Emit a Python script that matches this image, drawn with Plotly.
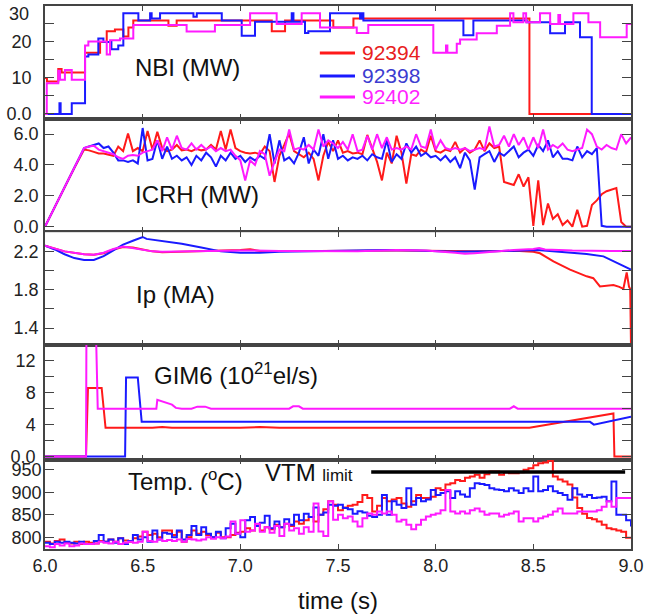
import numpy as np
import plotly.graph_objects as go
from plotly.subplots import make_subplots

# ---------------- data ----------------
shots = ["92394", "92398", "92402"]
colors = ["#ff1a1a", "#1a1aff", "#ff1aff"]
text_colors = ["#e82020", "#3c3cd0", "#ff22ff"]

# NBI (MW) step traces
nbi_t_red = [6.000, 6.010, 6.068, 6.085, 6.205, 6.282, 6.316, 6.358, 6.401, 6.427, 6.452, 6.632, 6.674,
             7.161, 7.229, 7.476, 7.579, 8.480, 9.000]
nbi_red = [10, 9, 12.5, 11.5, 17, 20, 23, 23.5, 21.5, 24, 26, 24.5, 26,
           23, 26, 24, 26.5, 0, 0]
nbi_t_blue = [6.000, 6.074, 6.080, 6.137, 6.205, 6.222, 6.273, 6.299, 6.340, 6.375, 6.401, 6.478, 6.538,
              6.546, 6.589, 6.760, 6.777, 6.905, 7.007, 7.075, 7.263, 7.272, 7.331, 7.348, 7.459,
              7.613, 7.621, 7.630, 8.142, 8.193, 8.466, 8.586, 8.662, 8.739, 8.799, 9.000]
nbi_blue = [0, 3, 0, 3, 16, 16.5, 21, 20, 18, 19, 28, 26, 28,
            26.5, 28, 27, 28, 26, 21.7, 25.6, 28, 25.6, 22.5, 23, 28,
            26.5, 28, 26, 21.9, 26, 25.5, 22.4, 25.5, 21.3, 0, 0]
nbi_t_mag = [6.000, 6.009, 6.068, 6.077, 6.102, 6.137, 6.205, 6.222, 6.316, 6.333, 6.384, 6.452, 6.725,
             6.870, 7.050, 7.186, 7.314, 7.408, 7.596, 7.655, 7.988, 8.053, 8.060, 8.108, 8.125,
             8.210, 8.313, 8.381, 8.398, 8.449, 8.463, 8.534, 8.586, 8.628, 8.637, 8.705, 8.782,
             8.842, 8.978, 9.000]
nbi_mag = [0, 8.5, 12, 9.5, 12.2, 9.5, 19, 20.1, 16.5, 20.5, 21, 24.7, 22.9,
           24.7, 28, 25, 28, 24, 22.5, 24.7, 17, 19, 17, 19.5, 20.7,
           22.4, 24.5, 28, 25.5, 28, 25.5, 28, 25, 27.5, 25, 28, 25.5,
           21.3, 25, 25]

# ICRH (MW): ramp then samples every 25 ms from 6.2 s to 9.0 s
icrh_t = [6.0, 6.05, 6.1, 6.15] + [round(6.2 + 0.025 * i, 3) for i in range(113)]
icrh_ramp = [0.0, 1.3, 2.55, 3.8]
icrh_red = icrh_ramp + [
    5.0, 4.95, 4.85, 4.75, 4.75, 4.65, 4.6, 5.2, 4.9, 6.05,
    4.9, 5.1, 4.9, 6.2, 5.0, 6.15, 5.1, 4.9, 5.0, 5.3,
    4.95, 5.0, 4.9, 5.05, 4.95, 5.0, 5.3, 5.0, 6.2, 5.0,
    6.3, 5.1, 4.9, 4.8, 4.75, 4.8, 4.7, 5.2, 4.9, 2.9,
    4.6, 5.3, 6.05, 4.9, 4.7, 4.5, 4.8, 4.4, 3.0, 4.6,
    5.5, 4.9, 5.6, 4.8, 4.9, 4.75, 4.8, 4.7, 5.95, 5.0,
    4.2, 3.0, 4.8, 4.1, 5.9, 4.8, 2.8, 4.7, 4.6, 5.0,
    4.8, 5.9, 4.9, 4.8, 5.0, 4.9, 5.5, 4.8, 5.1, 4.8,
    5.0, 5.6, 4.9, 5.4, 5.1, 5.2, 2.9, 2.8, 2.7, 3.4,
    2.6, 3.2, 0.05, 3.0, 0.1, 1.5, 0.5, 0.8, 0.1, 0.4,
    0.0, 1.1, 0.0, 0.05, 1.4, 1.7, 2.1, 2.3, 2.4, 2.5,
    0.3, 0.0, 0.0]
icrh_blue = icrh_ramp + [
    5.1, 5.2, 5.3, 5.4, 5.1, 5.2, 4.8, 4.3, 4.3, 4.2,
    4.3, 4.1, 6.4, 4.3, 4.4, 5.6, 4.4, 5.2, 4.4, 4.6,
    4.3, 4.5, 4.0, 4.6, 4.3, 4.8, 4.5, 3.9, 4.6, 4.3,
    4.8, 4.4, 4.6, 4.2, 4.5, 4.3, 4.6, 4.4, 6.0, 4.1,
    5.6, 4.3, 4.5, 4.1, 4.8, 5.8, 4.1, 5.0, 4.6, 6.0,
    4.4, 5.6, 4.4, 4.6, 4.3, 4.5, 4.4, 4.6, 4.3, 4.7,
    4.5, 4.4, 5.6, 4.2, 4.7, 4.4, 5.4, 4.8, 5.2, 4.6,
    4.8, 4.5, 4.6, 4.3, 4.6, 4.2, 4.5, 3.8, 4.8, 4.3,
    2.4, 4.5, 4.7, 4.9, 4.2, 4.8, 4.6, 4.9, 5.2, 4.5,
    4.8, 5.0, 4.6, 5.3, 4.9, 5.6, 4.5, 4.9, 4.4, 4.4,
    4.3, 5.2, 4.5, 4.9, 4.7, 5.1, 0.05, 0.0, 0.0, 0.0,
    0.0, 0.0, 0.0]
icrh_mag = icrh_ramp + [
    5.1, 5.2, 5.25, 5.0, 4.9, 4.75, 4.7, 4.5, 4.4, 4.6,
    4.65, 4.6, 4.8, 4.9, 5.0, 5.6, 4.9, 5.8, 5.0, 5.9,
    5.1, 5.0, 5.4, 5.0, 5.3, 5.0, 5.2, 4.9, 5.1, 4.9,
    5.0, 4.6, 4.3, 3.0, 4.3, 4.0, 4.9, 4.7, 3.3, 4.2,
    5.0, 4.9, 6.3, 5.0, 5.1, 5.0, 5.3, 5.0, 6.3, 5.2,
    5.6, 5.4, 5.1, 5.5, 5.0, 6.0, 4.9, 5.0, 5.9, 5.0,
    6.0, 5.1, 5.8, 5.0, 5.1, 5.0, 5.2, 5.0, 6.0, 5.2,
    5.1, 6.3, 5.0, 5.6, 5.1, 5.0, 5.1, 5.0, 5.1, 4.9,
    5.0, 5.1, 5.0, 6.5, 5.2, 5.3, 5.9, 5.2, 6.0, 5.3,
    5.8, 5.0, 5.8, 5.1, 6.3, 5.0, 5.3, 5.1, 5.4, 5.0,
    4.9, 5.0, 5.1, 6.3, 6.0, 5.2, 5.0, 5.3, 5.1, 5.0,
    6.0, 5.4, 5.8]

# Ip (MA)
ip_t_red = [6.00, 6.10, 6.20, 6.25, 6.30, 6.35, 6.40, 6.45, 6.50, 6.55, 6.60, 6.70, 6.80, 6.90, 7.00, 7.05,
            7.10, 7.40, 7.80, 8.20, 8.43, 8.50, 8.534, 8.603, 8.688, 8.773, 8.807, 8.841, 8.876, 8.910,
            8.940, 8.961, 8.978, 8.990, 8.996, 9.000]
ip_red = [2.26, 2.20, 2.17, 2.165, 2.18, 2.22, 2.245, 2.24, 2.22, 2.20, 2.19, 2.195, 2.205, 2.21, 2.215, 2.222,
          2.205, 2.205, 2.21, 2.20, 2.205, 2.195, 2.18, 2.096, 2.009, 1.94, 1.92, 1.835, 1.84, 1.85,
          1.83, 1.81, 1.98, 1.83, 1.81, 1.20]
ip_t_blue = [6.00, 6.05, 6.10, 6.15, 6.20, 6.25, 6.30, 6.35, 6.40, 6.45, 6.48, 6.50, 6.52, 6.60, 6.70, 6.80,
             6.90, 7.00, 7.10, 7.20, 7.30, 7.40, 7.75, 7.90, 8.10, 8.30, 8.45, 8.52, 8.60, 8.773, 8.859,
             8.910, 8.950, 9.000]
ip_blue = [2.26, 2.22, 2.17, 2.13, 2.11, 2.11, 2.15, 2.21, 2.27, 2.31, 2.33, 2.35, 2.33, 2.31, 2.28, 2.24,
           2.20, 2.185, 2.185, 2.195, 2.20, 2.205, 2.215, 2.21, 2.195, 2.20, 2.205, 2.215, 2.20, 2.172, 2.148,
           2.10, 2.06, 2.01]
ip_t_mag = [6.00, 6.10, 6.20, 6.25, 6.30, 6.35, 6.40, 6.45, 6.50, 6.55, 6.60, 6.80, 7.00, 7.20, 7.40, 7.60,
            7.80, 7.95, 8.10, 8.15, 8.20, 8.30, 8.40, 8.50, 8.53, 8.56, 8.70, 8.90, 9.00]
ip_mag = [2.26, 2.20, 2.17, 2.165, 2.185, 2.225, 2.25, 2.235, 2.215, 2.20, 2.195, 2.205, 2.21, 2.205, 2.205, 2.20,
          2.215, 2.21, 2.185, 2.175, 2.18, 2.20, 2.215, 2.225, 2.235, 2.22, 2.21, 2.205, 2.205]

# GIM6 (1e21 el/s)
gim_t_red = [6.00, 6.21, 6.22, 6.29, 6.31, 6.55, 6.60, 6.65, 7.00, 7.10, 7.20, 8.48, 8.91, 8.915, 9.00]
gim_red = [0, 0, 8.6, 8.6, 3.6, 3.6, 3.7, 3.6, 3.6, 3.7, 3.6, 3.6, 5.4, 0, 0]
gim_t_blue = [6.00, 6.41, 6.415, 6.475, 6.495, 8.79, 8.81, 9.00]
gim_blue = [0, 0, 9.9, 9.9, 4.35, 4.35, 4.0, 5.0]
gim_t_mag = [6.00, 6.21, 6.212, 6.262, 6.27, 6.57, 6.575, 6.60, 6.62, 6.65, 6.67, 6.70, 6.75, 6.78, 6.82,
             6.85, 7.25, 7.27, 7.30, 7.32, 8.38, 8.40, 8.42, 9.00]
gim_mag = [0, 0, 14.5, 14.5, 6.0, 6.0, 7.1, 6.9, 6.7, 6.5, 6.1, 6.0, 6.0, 6.25, 6.25,
           6.0, 6.0, 6.3, 6.3, 6.0, 6.0, 6.3, 6.0, 6.0]

# Temperature (deg C), sampled every 25 ms from 6.0 s to 9.0 s
temp_t = [round(6.0 + 0.025 * i, 3) for i in range(121)]
temp_red = [
    790, 786, 792, 795, 788, 786, 790, 785, 790, 788,
    786, 792, 790, 795, 790, 798, 793, 790, 798, 802,
    812, 805, 808, 800, 815, 815, 805, 812, 790, 800,
    815, 808, 812, 805, 800, 810, 800, 800, 805, 810,
    812, 820, 815, 826, 815, 822, 818, 828, 822, 830,
    825, 835, 830, 838, 845, 835,
    850, 862, 880, 872, 860, 866, 870, 872, 878, 894,
    887, 857, 870, 887, 880, 884, 887, 875, 868, 880,
    894, 887, 887, 890, 909, 905, 917, 920, 927, 925,
    932, 935, 939, 932, 940, 946, 946, 939, 944, 942,
    942, 944, 950, 953, 960, 964, 966, 970, 935, 928,
    924, 917, 888, 865, 852, 843, 840, 835, 828, 820,
    818, 815, 812, 799, 797]
temp_blue = [
    788, 785, 790, 788, 790, 788, 786, 790, 785, 785,
    792, 805, 790, 795, 788, 798, 785, 792, 805, 795,
    800, 790, 815, 795, 810, 808, 800, 815, 795, 805,
    825, 805, 822, 808, 800, 812, 798, 820, 830, 808,
    800, 838, 845, 825, 832, 848, 820, 835, 822, 840,
    828, 850, 838, 852, 845, 866,
    850, 855, 872, 870, 872, 865, 862, 852, 858, 855,
    848, 845, 850, 894, 850, 880, 872, 865, 909, 872,
    887, 880, 884, 905, 894, 898, 902, 887, 902, 895,
    890, 909, 920, 918, 916, 909, 906, 905, 902, 909,
    904, 898, 909, 902, 935, 902, 905, 913, 902, 898,
    894, 883, 909, 895, 890, 894, 887, 888, 890, 880,
    924, 850, 850, 838, 824]
temp_mag = [
    780, 778, 785, 782, 786, 780, 782, 786, 785, 785,
    786, 790, 788, 786, 790, 785, 788, 790, 788, 790,
    812, 792, 790, 795, 792, 794, 792, 795, 790, 796,
    795, 793, 795, 800, 797, 800, 798, 802, 835, 808,
    838, 812, 815, 830, 812, 822, 810, 825, 803, 830,
    815, 820, 808, 822, 812, 875,
    813, 803, 880, 839, 850, 842, 846, 835, 824, 842,
    853, 850, 857, 853, 857, 850, 835, 839, 828, 818,
    828, 839, 846, 850, 853, 860, 905, 857, 853, 857,
    853, 860, 864, 857, 850, 853, 853, 846, 850, 853,
    857, 835, 842, 842, 835, 842, 846, 850, 857, 864,
    853, 853, 853, 857, 857, 857, 857, 860, 868, 880,
    868, 887, 887, 887, 887]

vtm_t = [7.67, 8.97]
vtm_limit = [945, 945]

x_ticks = [6.0, 6.5, 7.0, 7.5, 8.0, 8.5, 9.0]
x_tick_labels = ["6.0", "6.5", "7.0", "7.5", "8.0", "8.5", "9.0"]

# ---------------- figure ----------------
FONT = "Liberation Sans, Arial, Helvetica, sans-serif"
row_px = [113.3, 113.0, 112.7, 115.0, 89.3]
fig = make_subplots(rows=5, cols=1, shared_xaxes=True, vertical_spacing=0,
                    row_heights=[h / sum(row_px) for h in row_px])

panels = [
    (1, [(nbi_t_red, nbi_red), (nbi_t_blue, nbi_blue), (nbi_t_mag, nbi_mag)], "hv"),
    (2, [(icrh_t, icrh_red), (icrh_t, icrh_blue), (icrh_t, icrh_mag)], "linear"),
    (3, [(ip_t_red, ip_red), (ip_t_blue, ip_blue), (ip_t_mag, ip_mag)], "linear"),
    (4, [(gim_t_red, gim_red), (gim_t_blue, gim_blue), (gim_t_mag, gim_mag)], "linear"),
    (5, [(temp_t, temp_red), (temp_t, temp_blue), (temp_t, temp_mag)], "hv"),
]
for row, series, shape in panels:
    for k, (tt, vv) in enumerate(series):
        fig.add_trace(go.Scatter(x=tt, y=vv, mode="lines", name=shots[k],
                                 line=dict(color=colors[k], width=2, shape=shape),
                                 showlegend=False),
                      row=row, col=1)

fig.add_trace(go.Scatter(x=vtm_t, y=vtm_limit, mode="lines", line=dict(color="black", width=3.5),
                         showlegend=False), row=5, col=1)

TICKFONT = dict(family=FONT, size=18, color="#222")
axcommon = dict(showline=True, mirror="allticks", ticks="inside", linecolor="#444", linewidth=1.5,
                tickcolor="#444", tickwidth=1.2, showgrid=False, zeroline=False, automargin=False,
                tickfont=TICKFONT, ticklabeloverflow="allow")

for r in range(1, 6):
    fig.update_xaxes(range=[6.0, 9.0], tickmode="array", tickvals=x_ticks, ticktext=x_tick_labels,
                     ticklen=5, showticklabels=(r == 5), row=r, col=1, **axcommon)

yspecs = [
    dict(range=[-1.47, 30.0], tickvals=[0, 5, 10, 15, 20, 25, 30],
         ticktext=["0.0", "", "10", "", "20", "", ""], ticklabelstandoff=8),
    dict(range=[-0.36, 6.97], tickvals=[0, 2, 4, 6], ticktext=["0.0", "2.0", "4.0", "6.0"],
         ticklabelstandoff=1),
    dict(range=[1.226, 2.40], tickvals=[1.4, 1.6, 1.8, 2.0, 2.2], ticktext=["1.4", "", "1.8", "", "2.2"],
         ticklabelstandoff=1),
    dict(range=[-0.4, 14.0], tickvals=[0, 2, 4, 6, 8, 10, 12],
         ticktext=["0.0", "", "4", "", "8", "", "12"], ticklabelstandoff=4),
    dict(range=[774, 972], tickvals=[800, 850, 900, 950], ticktext=["800", "850", "900", "950"],
         ticklabelstandoff=-2),
]
for r, spec in enumerate(yspecs, start=1):
    fig.update_yaxes(tickmode="array", ticklen=9, row=r, col=1, **spec, **axcommon)

# top label of the NBI axis sits just inside the figure
fig.add_annotation(xref="x domain", yref="y domain", x=0, y=1, xanchor="right", yanchor="middle",
                   xshift=-14, yshift=-8, text="30", showarrow=False, font=TICKFONT)

fig.update_xaxes(title=dict(text="time (s)", font=dict(family=FONT, size=24, color="#111"), standoff=18),
                 row=5, col=1)

labels = [
    ("x", "y", 6.73, 13.0, "NBI (MW)"),
    ("x2", "y2", 6.78, 2.06, "ICRH (MW)"),
    ("x3", "y3", 6.666, 1.748, "Ip (MA)"),
    ("x4", "y4", 6.98, 10.4, "GIM6 (10<sup>21</sup>el/s)"),
    ("x5", "y5", 6.72, 928, "Temp. (<sup>o</sup>C)"),
]
for xr, yr, xv, yv, txt in labels:
    fig.add_annotation(xref=xr, yref=yr, x=xv, y=yv, text=txt, showarrow=False,
                       font=dict(family=FONT, size=24, color="#111"))
fig.add_annotation(xref="x5", yref="y5", x=7.117, y=944, xanchor="left", showarrow=False,
                   text='VTM <span style="font-size:17px">limit</span>',
                   font=dict(family=FONT, size=24, color="#111"))

# legend (drawn as keys in the first panel)
leg_y = [0.585, 0.382, 0.197]
for k in range(3):
    fig.add_shape(type="line", xref="x domain", yref="y domain", x0=0.469, x1=0.529,
                  y0=leg_y[k], y1=leg_y[k], line=dict(color=colors[k], width=3))
    fig.add_annotation(xref="x domain", yref="y domain", x=0.537, y=leg_y[k], xanchor="left",
                       yanchor="middle", text=shots[k], showarrow=False,
                       font=dict(family=FONT, size=21, color=text_colors[k]))

fig.update_layout(
    width=651, height=614,
    margin=dict(l=45, r=20, t=6, b=65),
    paper_bgcolor="white", plot_bgcolor="white",
    showlegend=False,
)

fig.write_html("out.html", config={"displayModeBar": False},
               post_script="document.body.style.margin='0px';")
